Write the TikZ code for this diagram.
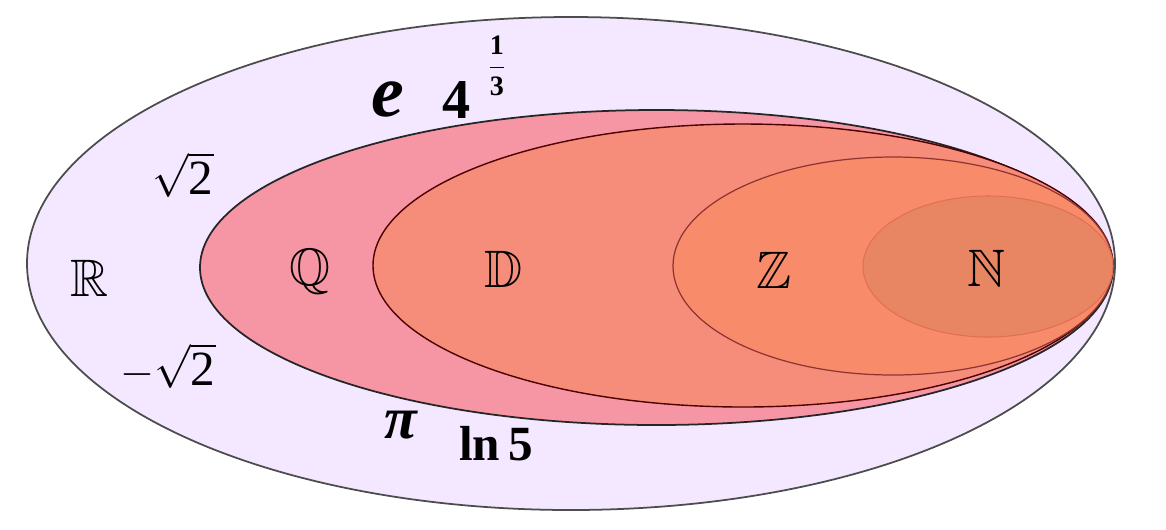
\documentclass[tikz,border=0pt]{standalone}
\usepackage{amsmath,amssymb}
\usepackage{fontspec}
\setmainfont{Liberation Serif}
\usepackage{tikz}

\definecolor{realfill}{RGB}{243,232,255}
\definecolor{ratfill}{RGB}{246,150,164}
\definecolor{decfill}{RGB}{246,140,122}
\definecolor{intfill}{RGB}{248,140,106}
\definecolor{natfill}{RGB}{232,134,100}

\begin{document}
\begin{tikzpicture}[
  x=0.02cm, y=-0.02cm,
  setname/.style={font=\fontsize{30}{36}\selectfont},
  numlabel/.style={font=\fontsize{28}{34}\selectfont},
  boldnum/.style={font=\fontsize{32}{38}\selectfont\bfseries}
]
\useasboundingbox (0,0) rectangle (1166,529);

% ------------------------------------------------------------
% Nested sets, drawn from the largest to the smallest
% ------------------------------------------------------------
\draw[line width=1pt,draw=black!70,fill=realfill] (571,263.5) ellipse (544 and 246.5);
\draw[line width=1pt,draw=black!85,fill=ratfill] (656.5,267.5) ellipse (456.5 and 157.5);
\draw[line width=0.8pt,draw=red!30!black,fill=decfill] (743,265.5) ellipse (370 and 141.5);
\draw[line width=0.7pt,draw=red!45!black!80,fill=intfill] (893,266) ellipse (220 and 109);
\draw[line width=0.6pt,draw=red!40!brown!80,fill=natfill] (988,266.5) ellipse (125 and 70.5);

% ------------------------------------------------------------
% Set names
% ------------------------------------------------------------
\node[setname] (R) at (90,278) {$\mathbb{R}$};
\node[setname] (Q) at (310,272) {$\mathbb{Q}$};
\node[setname] (D) at (504,269) {$\mathbb{D}$};
\node[setname] (Z) at (774,270) {$\mathbb{Z}$};
\node[setname] (N) at (987,268) {$\mathbb{N}$};

% ------------------------------------------------------------
% Irrational numbers in R \ Q
% ------------------------------------------------------------
\node[numlabel] (sqrt) at (183,175) {$\sqrt{\mbox{2}}$};
\node[numlabel] (msqrt) at (168,366) {$-\sqrt{\mbox{2}}$};
\node[boldnum,font=\fontsize{42}{46}\selectfont\bfseries\itshape] (e) at (388,99) {e};
\node[boldnum] (four) at (457,100) {4};
\node[font=\fontsize{16}{20}\selectfont\bfseries] (third) at (497,66)
  {$\dfrac{\text{1}}{\text{3}}$};
\node[boldnum,font=\fontsize{34}{40}\selectfont\bfseries\itshape] (pi) at (401,425) {π};
\node[boldnum,font=\fontsize{28}{34}\selectfont\bfseries] (ln) at (496,444) {ln\,5};

\end{tikzpicture}
\end{document}
